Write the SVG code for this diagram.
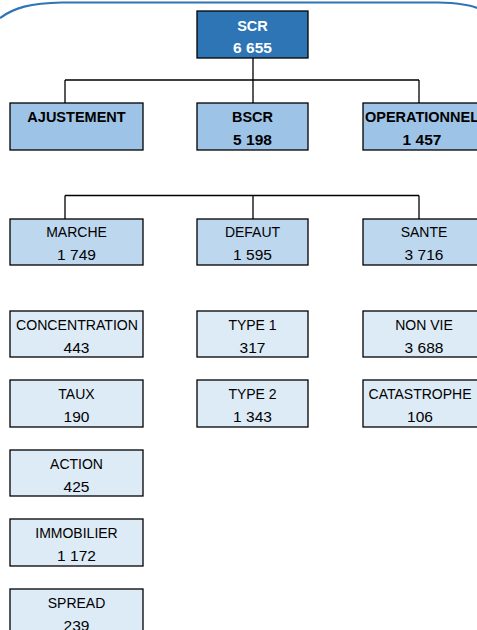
<svg xmlns="http://www.w3.org/2000/svg" width="477" height="630" viewBox="0 0 477 630">
<style>
.box{stroke:#000;stroke-width:1.3}
.l1{fill:#2E75B6}
.l2{fill:#9DC3E6}
.l3{fill:#BDD7EE}
.l4{fill:#DDEBF7}
text{font-family:"Liberation Sans",Arial,sans-serif;text-anchor:middle;fill:#000}
.n{font-size:14px}
.v{font-size:15.5px}
.b{font-weight:bold;font-size:14.5px}
.bv{font-weight:bold;font-size:15.5px}
.w{fill:#fff}
.conn{stroke:#000;stroke-width:1.3;fill:none}
</style>
<path d="M 0 18 C 14 8, 30 3, 62 2.5 L 438 2.5 C 458 3, 470 5, 477 8" fill="none" stroke="#2E75B6" stroke-width="2.2"/>
<g id="connectors" class="conn">
<path d="M 253 58 V 80 M 65 80 H 419 M 65 80 V 103 M 253 80 V 103 M 419 80 V 103"/>
<path d="M 65 195.5 H 419 M 65 195.5 V 219 M 253 195.5 V 219 M 419 195.5 V 219"/>
</g>
<g id="scr"><rect class="box l1" x="197" y="11" width="111" height="47"/><text class="b w" x="252.5" y="30.5">SCR</text><text class="bv w" x="252.5" y="53">6 655</text></g>
<g id="ajustement"><rect class="box l2" x="10" y="103" width="133" height="47"/><text class="b" x="76.5" y="122">AJUSTEMENT</text></g>
<g id="bscr"><rect class="box l2" x="197" y="103" width="111" height="47"/><text class="b" x="252.5" y="122">BSCR</text><text class="bv" x="252.5" y="145">5 198</text></g>
<g id="operationnel"><rect class="box l2" x="363" y="103" width="130" height="47"/><text class="b" x="422" y="122">OPERATIONNEL</text><text class="bv" x="422" y="145">1 457</text></g>
<g id="marche"><rect class="box l3" x="10" y="219" width="133" height="46"/><text class="n" x="76.5" y="237">MARCHE</text><text class="v" x="76.5" y="260">1 749</text></g>
<g id="defaut"><rect class="box l3" x="197" y="219" width="111" height="46"/><text class="n" x="252.5" y="237">DEFAUT</text><text class="v" x="252.5" y="260">1 595</text></g>
<g id="sante"><rect class="box l3" x="363" y="219" width="130" height="46"/><text class="n" x="424" y="237">SANTE</text><text class="v" x="424" y="260">3 716</text></g>
<g id="concentration"><rect class="box l4" x="10" y="311" width="133" height="46"/><text class="n" x="77" y="330" textLength="122" lengthAdjust="spacingAndGlyphs">CONCENTRATION</text><text class="v" x="76.5" y="353">443</text></g>
<g id="type1"><rect class="box l4" x="197" y="311" width="111" height="46"/><text class="n" x="252.5" y="330">TYPE 1</text><text class="v" x="252.5" y="353">317</text></g>
<g id="nonvie"><rect class="box l4" x="363" y="311" width="130" height="46"/><text class="n" x="424" y="330">NON VIE</text><text class="v" x="424" y="353">3 688</text></g>
<g id="taux"><rect class="box l4" x="10" y="380" width="133" height="47"/><text class="n" x="76.5" y="399">TAUX</text><text class="v" x="76.5" y="422">190</text></g>
<g id="type2"><rect class="box l4" x="197" y="380" width="111" height="47"/><text class="n" x="252.5" y="399">TYPE 2</text><text class="v" x="252.5" y="422">1 343</text></g>
<g id="catastrophe"><rect class="box l4" x="363" y="380" width="130" height="47"/><text class="n" x="420" y="399">CATASTROPHE</text><text class="v" x="420" y="422">106</text></g>
<g id="action"><rect class="box l4" x="10" y="450" width="133" height="46"/><text class="n" x="76.5" y="469">ACTION</text><text class="v" x="76.5" y="492">425</text></g>
<g id="immobilier"><rect class="box l4" x="10" y="519" width="133" height="47"/><text class="n" x="76.5" y="538">IMMOBILIER</text><text class="v" x="76.5" y="561">1 172</text></g>
<g id="spread"><rect class="box l4" x="10" y="589" width="133" height="50"/><text class="n" x="76.5" y="608">SPREAD</text><text class="v" x="76.5" y="631">239</text></g>
</svg>
